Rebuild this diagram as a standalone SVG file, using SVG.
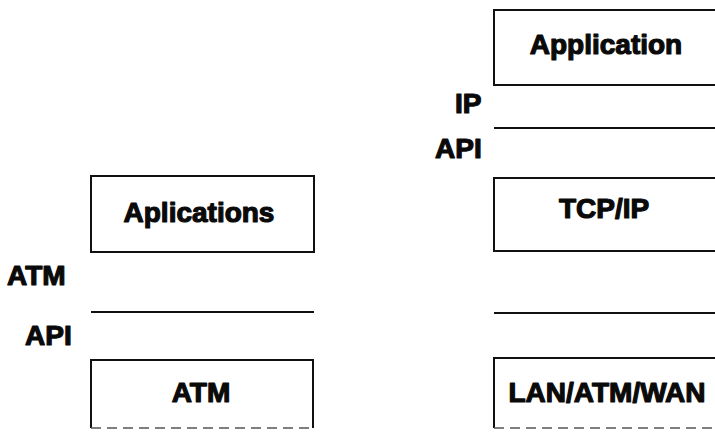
<svg xmlns="http://www.w3.org/2000/svg" width="715" height="433" viewBox="0 0 715 433">
<style>
.box{fill:none;stroke:#111;stroke-width:2}
.sep{stroke:#111;stroke-width:2}
.dash{stroke:#555;stroke-width:1.5;stroke-dasharray:10 6}
text{font-family:"Liberation Sans",Arial,sans-serif;font-weight:bold;font-size:28px;fill:#0a0a0a;stroke:#0a0a0a;stroke-width:1.2;stroke-linejoin:round}
.c{text-anchor:middle}
</style>
<rect width="715" height="433" fill="#fff"/>
<g id="aplications">
<rect class="box" x="91" y="176" width="223" height="76"/>
<text class="c" x="199" y="222">Aplications</text>
</g>
<g id="atm-box">
<path class="box" d="M91,428 V360 H313 V428"/>
<line class="dash" x1="91" y1="428" x2="313" y2="428"/>
<text class="c" x="201" y="402">ATM</text>
</g>
<g id="application">
<path class="box" d="M720,10 H494 V85 H720"/>
<text class="c" x="606" y="54">Application</text>
</g>
<g id="tcpip">
<path class="box" d="M720,178 H494 V251 H720"/>
<text class="c" x="604" y="218">TCP/IP</text>
</g>
<g id="lanatmwan">
<path class="box" d="M720,358 H494 V428"/>
<line class="dash" x1="494" y1="428" x2="715" y2="428"/>
<text class="c" x="607" y="402">LAN/ATM/WAN</text>
</g>
<g id="labels">
<text x="7" y="285">ATM</text>
<text x="25" y="345">API</text>
<text x="455" y="113">IP</text>
<text x="435" y="158">API</text>
</g>
<g id="connectors">
<line class="sep" x1="91" y1="312" x2="314" y2="312"/>
<line class="sep" x1="494" y1="128" x2="715" y2="128"/>
<line class="sep" x1="494" y1="313" x2="715" y2="313"/>
</g>
</svg>
